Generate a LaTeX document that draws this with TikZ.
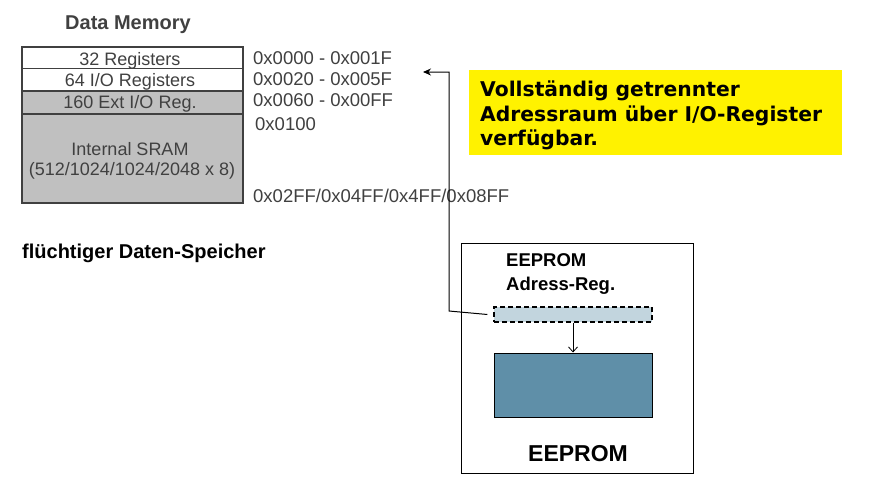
\documentclass[tikz,border=0pt]{standalone}
\usepackage{fontspec}
\setmainfont{Liberation Sans}
\newfontfamily\djv{DejaVu Sans}
\usetikzlibrary{arrows.meta}
\definecolor{memtext}{HTML}{404040}
\definecolor{memgray}{HTML}{C0C0C0}
\definecolor{memline}{HTML}{404040}
\definecolor{regfill}{HTML}{C2D5DE}
\definecolor{eefill}{HTML}{5F8FA8}
\begin{document}
\begin{tikzpicture}[x=1pt,y=-1pt,
  memrow/.style={draw=memline,line width=1.6pt},
  memlbl/.style={anchor=base,inner sep=0,text=memtext,font=\fontsize{18}{21}\selectfont},
  addr/.style={anchor=base west,inner sep=0,text=memtext,font=\fontsize{18.5}{21}\selectfont},
  boldlbl/.style={anchor=base west,inner sep=0,font=\bfseries\fontsize{18.5}{23}\selectfont},
  yeltext/.style={anchor=base west,inner sep=0,font=\djv\bfseries\fontsize{20.3}{24}\selectfont}]
\useasboundingbox (0,0) rectangle (871,493);
% Data memory
\node[anchor=base,inner sep=0,text=memtext,font=\bfseries\fontsize{20}{24}\selectfont] (title) at (128,29) {Data Memory};
\path[fill=white] (22,47) rectangle (243,91);
\path[fill=memgray] (22,91) rectangle (243,203);
\draw[memrow] (22,47) rectangle (243,203);
\draw[memrow] (22,68.5) -- (243,68.5);
\draw[memrow] (22,91) -- (243,91);
\draw[memrow] (22,114) -- (243,114);
\node[memlbl] (r32) at (130,65) {32 Registers};
\node[memlbl] (r64) at (130,86) {64 I/O Registers};
\node[memlbl] (r160) at (130,108) {160 Ext I/O Reg.};
\node[memlbl] (sram1) at (130,155) {Internal SRAM};
\node[memlbl] (sram2) at (132,175) {(512/1024/1024/2048 x 8)};
\node[addr] (a1) at (253,64) {0x0000 - 0x001F};
\node[addr] (a2) at (253,85) {0x0020 - 0x005F};
\node[addr] (a3) at (253,106.5) {0x0060 - 0x00FF};
\node[addr] (a4) at (255,130) {0x0100};
\node[addr] (a5) at (253,202) {0x02FF/0x04FF/0x4FF/0x08FF};
\node[anchor=base west,inner sep=0,font=\bfseries\fontsize{20}{24}\selectfont] (fl) at (22,258) {flüchtiger Daten-Speicher};
% yellow note
\path[fill=yellow] (469,70) rectangle (842,155);
\node[yeltext] (y1) at (480,96.5) {Vollständig getrennter};
\node[yeltext] (y2) at (480,121) {Adressraum über I/O-Register};
\node[yeltext] (y3) at (480,145) {verfügbar.};
% EEPROM block
\draw[line width=1pt] (461,243) rectangle (693,473);
\node[boldlbl] (ee1) at (506,266.5) {EEPROM};
\node[boldlbl] (ee2) at (506,290) {Adress-Reg.};
\node[draw,dash pattern=on 5pt off 3pt,line width=1.1pt,fill=regfill,minimum width=158pt,minimum height=15pt,inner sep=0] (dreg) at (573,314.5) {};
\node[draw,line width=1pt,fill=eefill,minimum width=158pt,minimum height=64pt,inner sep=0] (eeprom) at (573,385) {};
\node[anchor=base,inner sep=0,font=\bfseries\fontsize{23}{27}\selectfont] (eebig) at (578,461.5) {EEPROM};
\draw[line width=0.8pt,-{Straight Barb[length=5pt,width=9pt]}] (dreg.south) -- (eeprom.north);
\coordinate (bend) at (449,311);
\coordinate (tip) at (423,72);
\draw[line width=1pt,-{Stealth[length=8pt,width=7pt]}] ([xshift=-6pt]dreg.west) -- (bend) |- (tip);
\end{tikzpicture}
\end{document}
